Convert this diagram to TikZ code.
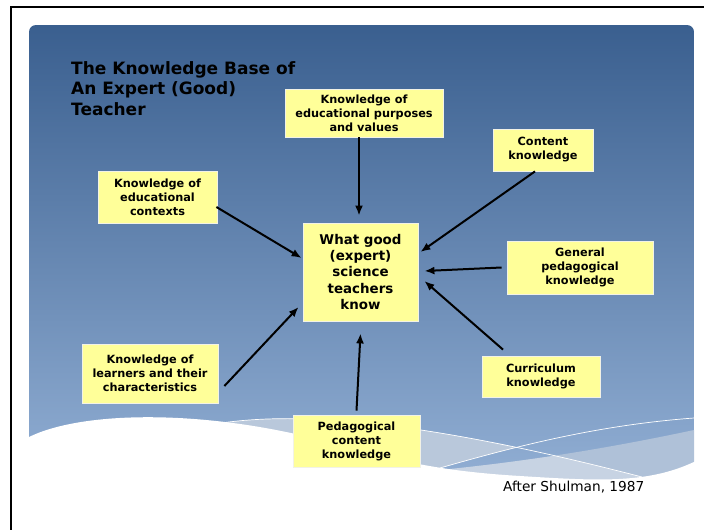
\documentclass[tikz,border=0pt]{standalone}
\usepackage{fontspec}
\setmainfont{DejaVu Sans}
\usetikzlibrary{calc,arrows.meta}
\definecolor{slidetop}{HTML}{3A5F8F}
\definecolor{slidebot}{HTML}{93B0D5}
\definecolor{boxyellow}{HTML}{FFFF99}
\definecolor{boxedge}{HTML}{F2F2E6}
\definecolor{bandA}{HTML}{B9C8DB}
\definecolor{bandB}{HTML}{AFC1D8}
\tikzset{
  kbox/.style={rectangle, fill=boxyellow, draw=boxedge, line width=0.8pt, inner sep=0pt,
    align=center, text=black, font=\bfseries\fontsize{11.3}{14}\selectfont},
  arr/.style={line width=2pt, -{Latex[length=10pt,width=8pt]}},
  swline/.style={draw=white, line width=0.7pt}
}
\begin{document}
\begin{tikzpicture}[x=1pt,y=-1pt]
\useasboundingbox (0,0) rectangle (704,530);
% page frame
\draw[line width=1.2pt] (11,530) -- (11,7) -- (704,7);
% slide background
\shade[top color=slidetop, bottom color=slidebot, rounded corners=7pt] (29,25) rectangle (694,490);
% lower light band
\fill[bandB] (440,470) .. controls (520,462) and (600,450) .. (694,430) -- (694,495) -- (440,495) -- cycle;
% band between the two white lines
\begin{scope}
  \clip (0,0) -- (700,0) -- (700,418) -- (694,418) .. controls (600,425) and (520,445) .. (440,468) -- (380,495) -- (0,495) -- cycle;
  \fill[bandA] (215,424) .. controls (300,410) and (430,422) .. (642,477) -- (642,495) -- (215,495) -- cycle;
\end{scope}
\begin{scope}
  \clip (440,470) .. controls (520,462) and (600,450) .. (694,430) -- (694,495) -- (440,495) -- cycle;
  \fill[white, opacity=0.3] (215,424) .. controls (300,410) and (430,422) .. (642,477) -- (642,495) -- (215,495) -- cycle;
\end{scope}
% white wave
\fill[white] (25,440) -- (29,437) .. controls (80,412) and (190,410) .. (300,435)
  .. controls (380,455) and (420,470) .. (520,476) .. controls (600,481) and (650,484) .. (698,460)
  -- (698,528) -- (25,528) -- cycle;
% thin white lines
\draw[swline] (215,424) .. controls (300,410) and (430,422) .. (642,477);
\draw[swline] (440,468) .. controls (520,445) and (600,425) .. (694,418);

% title
\node[anchor=base west, align=left, inner sep=0pt, text=black,
  font=\bfseries\fontsize{17}{20.5}\selectfont] (title) at (71,115)
  {The Knowledge Base of\\An Expert (Good)\\Teacher};

% boxes
\node[kbox, minimum width=115pt, minimum height=98pt,
  font=\bfseries\fontsize{13.4}{16.3}\selectfont] (ctr) at (360.5,272)
  {What good\\(expert)\\science\\teachers\\know};
\node[kbox, minimum width=158pt, minimum height=48pt] (purp) at (364,113)
  {Knowledge of\\educational purposes\\and values};
\node[kbox, minimum width=119pt, minimum height=52pt] (edu) at (157.5,197)
  {Knowledge of\\educational\\contexts};
\node[kbox, minimum width=100pt, minimum height=42pt] (cont) at (543,150)
  {Content\\knowledge};
\node[kbox, minimum width=146pt, minimum height=53pt] (gen) at (580,267.5)
  {General\\pedagogical\\knowledge};
\node[kbox, minimum width=118pt, minimum height=41pt] (cur) at (541,376.5)
  {Curriculum\\knowledge};
\node[kbox, minimum width=136pt, minimum height=59pt] (lrn) at (150,373.5)
  {Knowledge of\\learners and their\\characteristics};
\node[kbox, minimum width=127pt, minimum height=52pt] (ped) at (356.5,441)
  {Pedagogical\\content\\knowledge};

% arrows
\draw[arr] ($(purp.south)+(-5,0)$) -- ($(ctr.north)+(-1.5,-7)$);
\draw[arr] ($(edu.east)+(-1,10)$) -- ($(ctr.west)+(-1,-14)$);
\draw[arr] ($(cont.south)+(-8,0)$) -- ($(ctr.east)+(2,-20)$);
\draw[arr] ($(gen.west)+(-5,0)$) -- ($(ctr.east)+(6,-1)$);
\draw[arr] ($(cur.north)+(-38,-6)$) -- ($(ctr.east)+(6,9)$);
\draw[arr] ($(lrn.east)+(6,12.5)$) -- ($(ctr.west)+(-4,35)$);
\draw[arr] ($(ped.north)+(0,-4)$) -- ($(ctr.south)+(0,12)$);

% source
\node[anchor=base west, inner sep=0pt, text=black,
  font=\fontsize{13.7}{16}\selectfont] (src) at (503,491) {After Shulman, 1987};
\end{tikzpicture}
\end{document}
